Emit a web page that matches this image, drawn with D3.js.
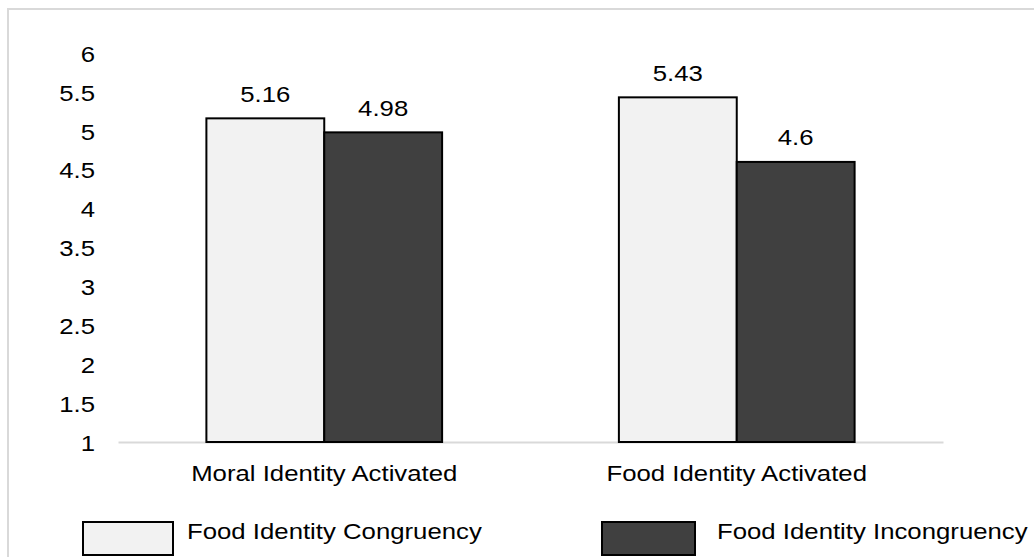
<!DOCTYPE html>
<html>
<head>
<meta charset="utf-8">
<script src="https://cdn.jsdelivr.net/npm/d3@7"></script>
<style>
  html, body { margin: 0; padding: 0; background: #fff; }
  svg { display: block; font-family: "Liberation Sans", Arial, sans-serif; }
</style>
</head>
<body>
<svg id="chart" width="1034" height="557"></svg>
<script>
// Data
const categories = ["Moral Identity Activated", "Food Identity Activated"];
const seriesNames = ["Food Identity Congruency", "Food Identity Incongruency"];
const congruency = [5.16, 5.43];
const incongruency = [4.98, 4.6];
const yTickValues = [1, 1.5, 2, 2.5, 3, 3.5, 4, 4.5, 5, 5.5, 6];

const seriesValues = [congruency, incongruency];
const fills = ["#f2f2f2", "#404040"];

// Layout
const W = 1034, H = 557;
const plot = { left: 118, right: 943, top: 53, bottom: 442 };
const fontSize = 23;
const sx = 1.12; // glyph horizontal scale

const svg = d3.select("#chart");

svg.append("rect").attr("width", W).attr("height", H).attr("fill", "#fff");

// Chart-area frame
svg.append("rect")
  .attr("x", 8).attr("y", 9)
  .attr("width", W + 40).attr("height", H + 40)
  .attr("fill", "none")
  .attr("stroke", "#d9d9d9")
  .attr("stroke-width", 2);

const x0 = d3.scaleBand().domain(categories).range([plot.left, plot.right]).padding(0);
const x1 = d3.scaleBand().domain(seriesNames).range([0, x0.bandwidth()])
  .paddingInner(0).paddingOuter(0.75);
const y = d3.scaleLinear().domain([1, 6]).range([plot.bottom, plot.top]);

// Y axis (labels only)
const yAxis = svg.append("g")
  .attr("transform", `translate(95,0)`)
  .call(d3.axisLeft(y).tickValues(yTickValues).tickSize(0).tickPadding(0)
    .tickFormat(d => String(d)));
yAxis.select(".domain").remove();
yAxis.selectAll("text")
  .attr("x", 0)
  .attr("dy", "0.36em")
  .attr("transform", `scale(${sx},1)`)
  .attr("font-size", fontSize)
  .attr("font-family", '"Liberation Sans", Arial, sans-serif')
  .attr("fill", "#000");

// X axis (baseline + category labels)
const xAxis = svg.append("g")
  .attr("transform", `translate(0,${plot.bottom})`)
  .call(d3.axisBottom(x0).tickSize(0).tickSizeOuter(0));
xAxis.select(".domain")
  .attr("stroke", "#d9d9d9")
  .attr("stroke-width", 2);
xAxis.selectAll("text")
  .attr("y", 39)
  .attr("dy", 0)
  .attr("transform", `scale(${sx},1)`)
  .attr("font-size", fontSize)
  .attr("font-family", '"Liberation Sans", Arial, sans-serif')
  .attr("fill", "#000");

// Bars
const rows = categories.map((c, i) => ({
  cat: c,
  items: seriesNames.map((s, j) => ({ cat: c, series: s, value: seriesValues[j][i], fill: fills[j] }))
}));

const groups = svg.append("g").selectAll("g")
  .data(rows).join("g")
  .attr("transform", d => `translate(${x0(d.cat)},0)`);

groups.selectAll("rect")
  .data(d => d.items).join("rect")
  .attr("x", d => x1(d.series))
  .attr("y", d => y(d.value))
  .attr("width", x1.bandwidth())
  .attr("height", d => y(1) - y(d.value))
  .attr("fill", d => d.fill)
  .attr("stroke", "#000")
  .attr("stroke-width", 2);

groups.selectAll("text")
  .data(d => d.items).join("text")
  .attr("transform", d => `translate(${x1(d.series) + x1.bandwidth() / 2},${y(d.value) - 16.5}) scale(${sx},1)`)
  .attr("text-anchor", "middle")
  .attr("font-size", fontSize)
  .attr("fill", "#000")
  .text(d => String(d.value));

// Legend
const legendPos = [{ rx: 83, tx: 187 }, { rx: 602, tx: 717 }];
const legend = svg.append("g").selectAll("g")
  .data(seriesNames).join("g");
legend.append("rect")
  .attr("x", (d, i) => legendPos[i].rx)
  .attr("y", 522)
  .attr("width", (d, i) => i === 0 ? 90 : 93)
  .attr("height", 33)
  .attr("fill", (d, i) => fills[i])
  .attr("stroke", "#000")
  .attr("stroke-width", 2);
legend.append("text")
  .attr("transform", (d, i) => `translate(${legendPos[i].tx},538.5) scale(${sx},1)`)
  .attr("font-size", fontSize)
  .attr("fill", "#000")
  .text(d => d);
</script>
</body>
</html>
